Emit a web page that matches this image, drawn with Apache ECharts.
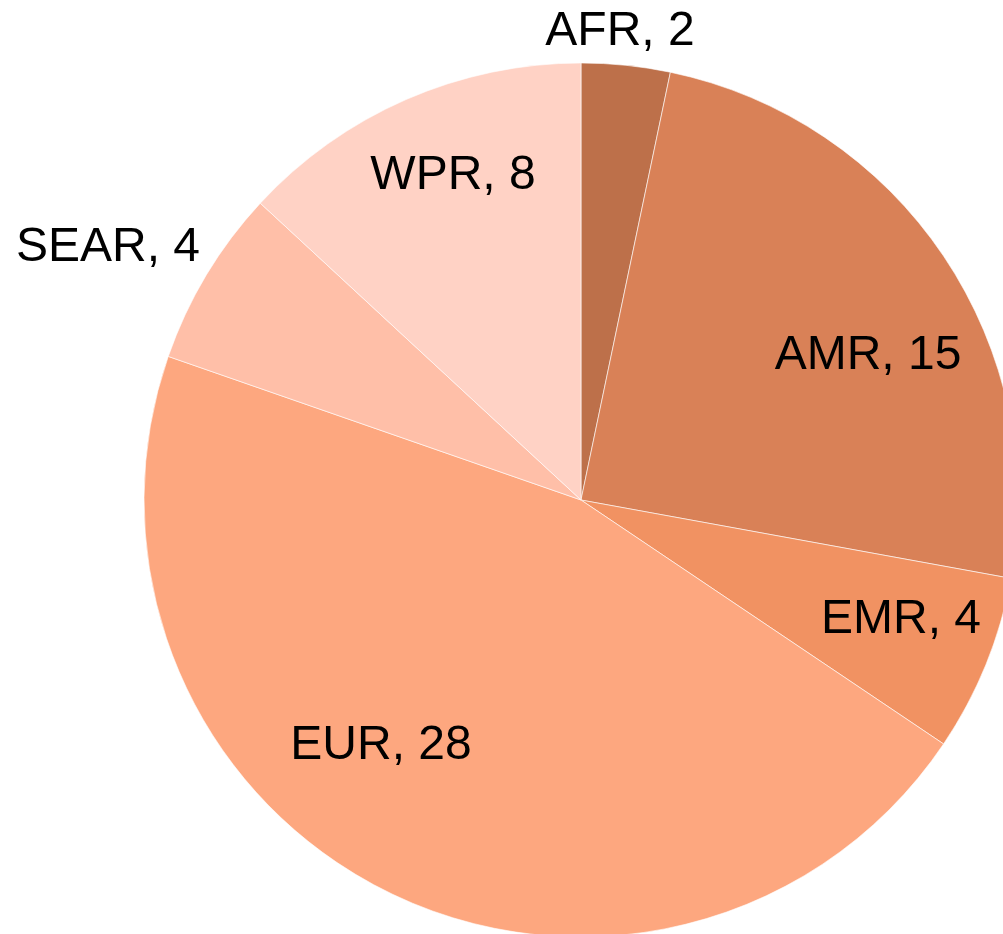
<!DOCTYPE html>
<html>
<head>
<meta charset="utf-8">
<script src="https://cdn.jsdelivr.net/npm/echarts@6/dist/echarts.min.js"></script>
<style>
html,body{margin:0;padding:0;background:#fff;}
#main{width:1003px;height:934px;}
</style>
</head>
<body>
<div id="main"></div>
<script>
const categories = ['AFR', 'AMR', 'EMR', 'EUR', 'SEAR', 'WPR'];
const values = [2, 15, 4, 28, 4, 8];
const colors = ['#BD704A', '#D98157', '#F19262', '#FDA77F', '#FFBFA8', '#FFD2C5'];

// label anchor positions (layout only)
const labelPos = {
  AFR: [620, 32],
  AMR: [868, 356],
  EMR: [901, 620],
  EUR: [381, 746],
  SEAR: [108, 248],
  WPR: [453, 176]
};

const chart = echarts.init(document.getElementById('main'), null, {renderer: 'canvas'});
chart.setOption({
  animation: false,
  backgroundColor: '#ffffff',
  series: [{
    type: 'pie',
    center: [581, 500],
    radius: [0, 437],
    startAngle: 90,
    clockwise: true,
    avoidLabelOverlap: false,
    itemStyle: {borderColor: '#ffffff', borderWidth: 0.6},
    label: {
      show: true,
      position: 'inside',
      formatter: p => p.name + ', ' + p.value,
      fontFamily: 'Liberation Sans, Arial, sans-serif',
      fontSize: 48,
      color: '#000000'
    },
    labelLine: {show: false},
    labelLayout: function (params) {
      const name = categories[params.dataIndex];
      const pos = labelPos[name];
      return {x: pos[0], y: pos[1], align: 'center', verticalAlign: 'middle', hideOverlap: false, moveOverlap: null};
    },
    data: categories.map((c, i) => ({name: c, value: values[i], itemStyle: {color: colors[i]}}))
  }]
});
</script>
</body>
</html>
